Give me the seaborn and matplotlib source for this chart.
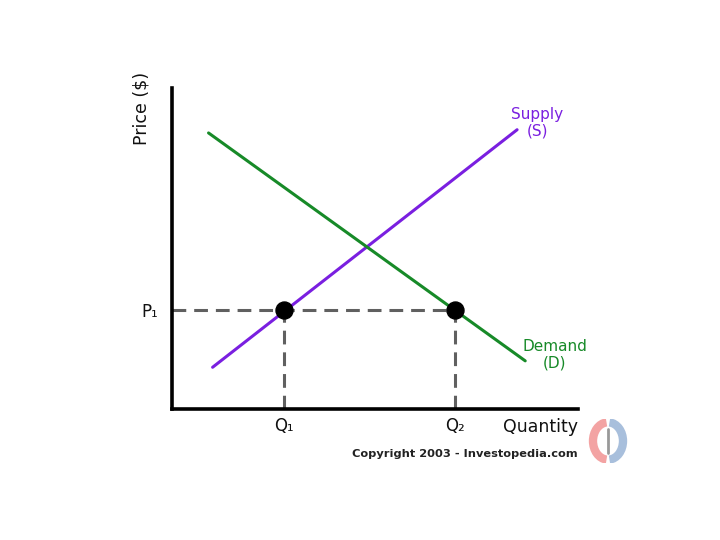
import numpy as np
import pandas as pd
import seaborn as sns
import matplotlib.pyplot as plt
from matplotlib.patches import Arc

# Supply / demand lines (quantity, price) on a 0-10 scale
supply_q = [1.0, 8.5]
supply_p = [1.3, 8.7]
demand_q = [0.9, 8.7]
demand_p = [8.6, 1.5]

# points where the P1 price meets each curve
eq_q = [2.76, 6.97]
eq_p = [3.08, 3.08]
q_labels = ["Q₁", "Q₂"]
p_labels = ["P₁"]

supply_col = "#7a1fe0"
demand_col = "#178a28"

sns.set_style("white")
plt.rcParams['font.family'] = ['DejaVu Sans']

fig = plt.figure(figsize=(7.2, 5.4), dpi=100)
ax = fig.add_axes([172 / 720, 1 - 409 / 540, 406 / 720, 321 / 540])

supply = pd.DataFrame({"q": supply_q, "p": supply_p})
demand = pd.DataFrame({"q": demand_q, "p": demand_p})
eq = pd.DataFrame({"q": eq_q, "p": eq_p})

# dashed guides
ax.plot([0, eq_q[1]], [eq_p[0], eq_p[0]], ls=(0, (4.5, 2.6)), color="#606060", lw=2.2, zorder=1)
for q in eq_q:
    ax.plot([q, q], [0, eq_p[0]], ls=(0, (4.5, 2.6)), color="#606060", lw=2.2, zorder=1)

sns.lineplot(data=supply, x="q", y="p", color=supply_col, lw=2.2, ax=ax, zorder=2)
sns.lineplot(data=demand, x="q", y="p", color=demand_col, lw=2.2, ax=ax, zorder=2)
sns.scatterplot(data=eq, x="q", y="p", color="black", s=150, edgecolor="black", ax=ax, zorder=3)

ax.set_xlim(0, 10)
ax.set_ylim(0, 10)
ax.set_xticks(eq_q)
ax.set_xticklabels(q_labels, fontsize=12)
ax.set_yticks(eq_p[:1])
ax.set_yticklabels(p_labels, fontsize=12)
ax.tick_params(length=0, labelcolor="#111111")
ax.tick_params(axis="x", pad=6)
ax.tick_params(axis="y", pad=10)
ax.set_xlabel("")
ax.set_ylabel("Price ($)", fontsize=12.5, color="#111111")
ax.yaxis.set_label_coords(-0.054, 0.935)
sns.despine(ax=ax)
for s in ["left", "bottom"]:
    ax.spines[s].set_linewidth(2.6)
    ax.spines[s].set_color("black")

ax.text(9.0, 8.92, "Supply\n(S)", color=supply_col, fontsize=11, ha="center", va="center",
        linespacing=1.15)
ax.text(9.43, 1.68, "Demand\n(D)", color=demand_col, fontsize=11, ha="center", va="center",
        linespacing=1.15)
ax.text(1.0, -0.055, "Quantity", transform=ax.transAxes, fontsize=12.5, ha="right", va="center",
        color="#111111")
fig.text(578 / 720, 1 - 454 / 540, "Copyright 2003 - Investopedia.com", family="DejaVu Sans",
         fontweight="bold", fontsize=8.2, ha="right", va="center", color="#222222")

# small logo
lg = fig.add_axes([588 / 720, 1 - 463 / 540, 40 / 720, 44 / 540])
lg.set_xlim(-1, 1)
lg.set_ylim(-1, 1)
lg.axis("off")
lg.add_patch(Arc((0, 0), 1.5, 1.7, theta1=95, theta2=265, lw=6, color="#f3a3a3"))
lg.add_patch(Arc((0, 0), 1.5, 1.7, theta1=-85, theta2=85, lw=6, color="#a8bfdc"))
lg.plot([0, 0], [-0.55, 0.55], color="#999999", lw=2)

fig.savefig("out.png", dpi=100)
